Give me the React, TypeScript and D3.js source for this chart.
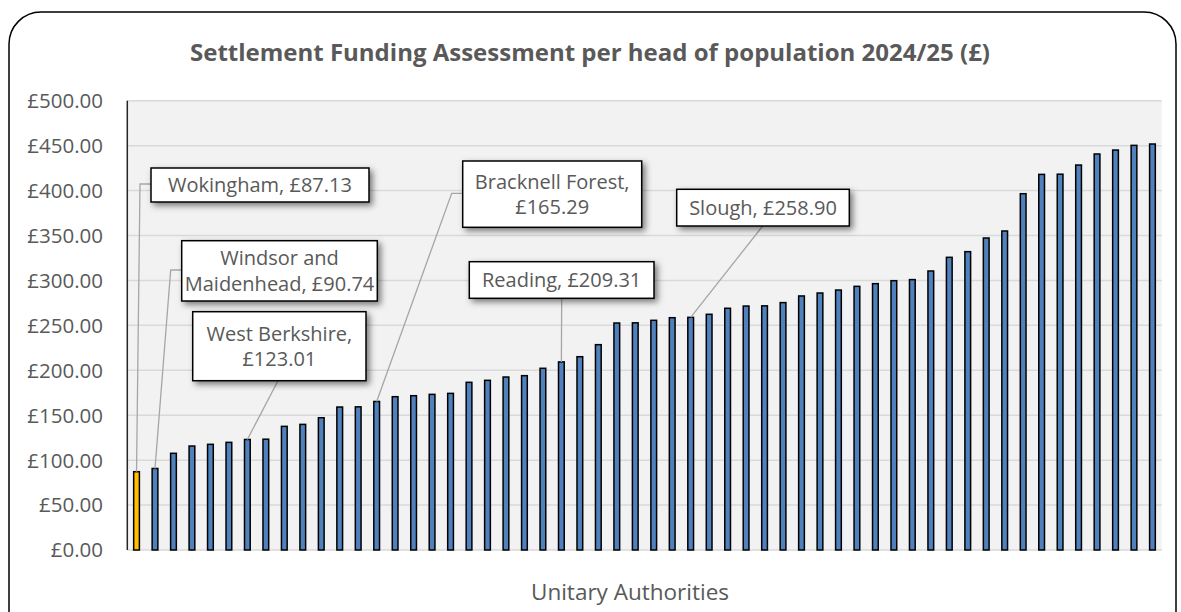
import * as d3 from "d3";

// Settlement Funding Assessment per head, sorted ascending (56 unitary authorities)
const VALUES = [
  87.13, 90.74, 107.6, 115.7, 117.6, 119.8, 123.01, 123.3, 137.6, 139.8,
  147.2, 159.1, 159.3, 165.29, 170.6, 171.7, 173.2, 174.3, 186.6, 188.8,
  192.5, 194.0, 202.2, 209.31, 215.1, 228.5, 252.6, 252.8, 255.6, 258.5,
  258.9, 262.3, 269.0, 271.5, 271.7, 275.3, 282.7, 286.0, 289.3, 293.4,
  296.4, 299.7, 300.9, 310.5, 325.7, 332.0, 347.2, 355.0, 396.5, 418.0,
  418.2, 428.4, 440.7, 445.1, 450.3, 451.8,
];

const HIGHLIGHT_INDEX = 0; // Wokingham

const Y_TICKS = [0, 50, 100, 150, 200, 250, 300, 350, 400, 450, 500];

// labelled authorities: bar index + text lines
const CALLOUT_INDEX = [0, 1, 6, 13, 23, 30];
const CALLOUT_LINES = [
  ["Wokingham, £87.13"],
  ["Windsor and", "Maidenhead, £90.74"],
  ["West Berkshire,", "£123.01"],
  ["Bracknell Forest,", "£165.29"],
  ["Reading, £209.31"],
  ["Slough, £258.90"],
];

const W = 1181;
const H = 612;
const M = { left: 127.3, right: 1161.7, top: 100.7, bottom: 550 };
const FONT = "'Open Sans', 'DejaVu Sans', sans-serif";
const GREY = "#595959";

// box layout in pixels: x, y, w, h, leader start, optional elbow x
const BOXES: { x: number; y: number; w: number; h: number; sx: number; sy: number; ex?: number }[] = [
  { x: 151, y: 168, w: 218, h: 34, sx: 151, sy: 184, ex: 140 },
  { x: 181.7, y: 240.7, w: 195.6, h: 60.3, sx: 181.7, sy: 270, ex: 170.7 },
  { x: 192.7, y: 311.7, w: 173.3, h: 69, sx: 278, sy: 380.7 },
  { x: 462.7, y: 161, w: 179, h: 66.3, sx: 462.7, sy: 193.3, ex: 451.7 },
  { x: 469.3, y: 261.7, w: 184.7, h: 36.6, sx: 561.7, sy: 298.3 },
  { x: 676.7, y: 189.3, w: 172.6, h: 36.7, sx: 762.7, sy: 226 },
];

export default function App() {
  const x = d3
    .scaleBand<number>()
    .domain(VALUES.map((_, i) => i))
    .range([M.left, M.right])
    .paddingInner(0.69)
    .paddingOuter(0.345);
  const y = d3.scaleLinear().domain([0, 500]).range([M.bottom, M.top]);
  const fmt = d3.format(".2f");

  return (
    <svg
      width={W}
      height={H}
      style={{ position: "absolute", left: 0, top: 0, fontFamily: FONT }}
    >
      <defs>
        <filter id="shadow" x="-20%" y="-30%" width="140%" height="170%">
          <feDropShadow dx="3" dy="3" stdDeviation="3" floodColor="#000" floodOpacity="0.5" />
        </filter>
      </defs>
      <rect width={W} height={H} fill="#fff" />
      <rect x={9} y={12} width={1167} height={640} rx={32} ry={32} fill="#fff" stroke="#000" strokeWidth={1.5} />

      <text x={590} y={61} textAnchor="middle" fontSize={24} fontWeight="bold" fill={GREY}>
        Settlement Funding Assessment per head of population 2024/25 (£)
      </text>

      <rect x={M.left} y={M.top} width={M.right - M.left} height={M.bottom - M.top} fill="#f2f2f2" />

      {Y_TICKS.map((t) => (
        <g key={t}>
          <line x1={M.left} x2={M.right} y1={y(t)} y2={y(t)} stroke="#d9d9d9" strokeWidth={1.5} />
          <text x={103} y={y(t)} dy="0.36em" textAnchor="end" fontSize={20.5} fill={GREY}>
            {`£${fmt(t)}`}
          </text>
        </g>
      ))}
      <line x1={M.left} x2={M.left} y1={M.top} y2={M.bottom} stroke="#262626" strokeWidth={1.5} />

      {VALUES.map((v, i) => (
        <rect
          key={i}
          x={x(i)}
          y={y(v)}
          width={x.bandwidth()}
          height={y(0) - y(v)}
          fill={i === HIGHLIGHT_INDEX ? "#ffc000" : "#4f81bd"}
          stroke="#000"
          strokeWidth={1.5}
        />
      ))}

      {CALLOUT_INDEX.map((idx, k) => {
        const b = BOXES[k];
        const tx = (x(idx) ?? 0) + x.bandwidth() / 2;
        const ty = y(VALUES[idx]);
        const pts: [number, number][] = [[b.sx, b.sy]];
        if (b.ex !== undefined) pts.push([b.ex, b.sy]);
        pts.push([tx, ty]);
        return (
          <path key={"l" + k} d={d3.line()(pts) ?? ""} fill="none" stroke="#a6a6a6" strokeWidth={1.3} />
        );
      })}

      {CALLOUT_INDEX.map((idx, k) => {
        const b = BOXES[k];
        const lines = CALLOUT_LINES[k];
        const lh = 25.5;
        const cy = b.y + b.h / 2 - ((lines.length - 1) * lh) / 2;
        return (
          <g key={"b" + idx}>
            <rect x={b.x} y={b.y} width={b.w} height={b.h} fill="#fff" stroke="#000" strokeWidth={1.5} filter="url(#shadow)" />
            {lines.map((ln, j) => (
              <text key={j} x={b.x + b.w / 2} y={cy + j * lh} dy="0.36em" textAnchor="middle" fontSize={20} fill={GREY}>
                {ln}
              </text>
            ))}
          </g>
        );
      })}

      <text x={630} y={600} textAnchor="middle" fontSize={22.5} fill={GREY}>
        Unitary Authorities
      </text>
    </svg>
  );
}
